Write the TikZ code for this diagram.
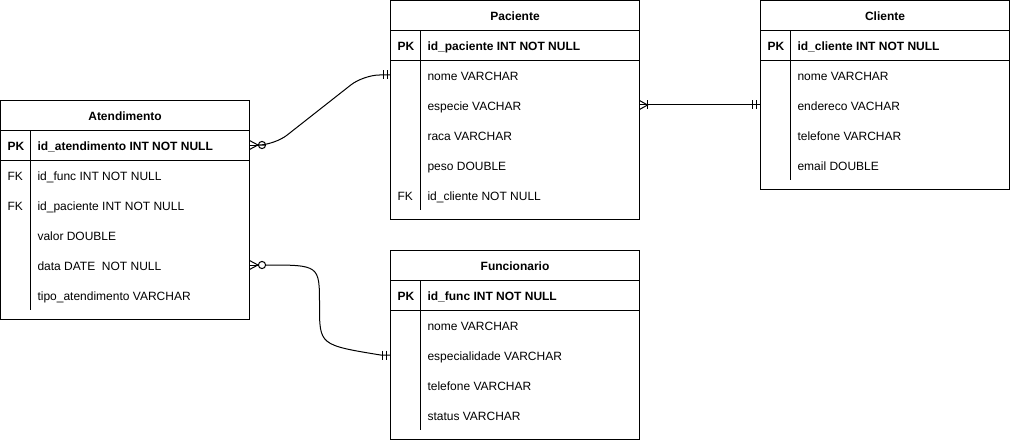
\documentclass[tikz,border=0pt]{standalone}
\usepackage{fontspec}
\setmainfont{Liberation Sans}
\usetikzlibrary{calc}
\begin{document}
\begin{tikzpicture}[x=1pt,y=-1pt,line width=1pt,
  tbl/.style={draw,fill=white,anchor=north west,inner sep=0pt,outer sep=0pt,minimum width=249pt},
  hdr/.style={inner sep=0pt,text height=8.6pt,text depth=0pt,font=\fontsize{12}{14}\selectfont\bfseries},
  keyb/.style={anchor=west,inner sep=0pt,text height=8.6pt,text depth=0pt,font=\fontsize{12}{14}\selectfont\bfseries},
  keyr/.style={anchor=west,inner sep=0pt,text height=8.6pt,text depth=0pt,font=\fontsize{12}{14}\selectfont},
  fldb/.style={anchor=west,inner sep=0pt,text height=8.6pt,text depth=0pt,font=\fontsize{12}{14}\selectfont\bfseries},
  fldr/.style={anchor=west,inner sep=0pt,text height=8.6pt,text depth=0pt,font=\fontsize{12}{14}\selectfont},
  conn/.style={draw,line width=1pt}]
\useasboundingbox (0,0) rectangle (1011,441);

% ---------------- Atendimento ----------------
\node[tbl,minimum height=219pt] (ate) at (0.5,100.5) {};
\node[hdr] (ate-h) at (125,116) {Atendimento};
\draw (0.5,130.5) -- (249.5,130.5);
\draw (0.5,160.5) -- (249.5,160.5);
\draw (30.5,130.5) -- (30.5,310);
\node[keyb] (ate-pkk) at (7,146) {PK};
\node[fldb] (ate-pk) at (37,146) {id\_atendimento INT NOT NULL};
\node[keyr] (ate-fk1) at (7,176) {FK};
\node[fldr] (ate-f1) at (37,176) {id\_func INT NOT NULL};
\node[keyr] (ate-fk2) at (7,206) {FK};
\node[fldr] (ate-f2) at (37,206) {id\_paciente INT NOT NULL};
\node[fldr] (ate-f3) at (37,236) {valor DOUBLE};
\node[fldr] (ate-f4) at (37,266) {data DATE\ \ NOT NULL};
\node[fldr] (ate-f5) at (37,296) {tipo\_atendimento VARCHAR};

% ---------------- Paciente ----------------
\node[tbl,minimum height=219pt] (pac) at (390.5,0.5) {};
\node[hdr] (pac-h) at (515,16) {Paciente};
\draw (390.5,30.5) -- (639.5,30.5);
\draw (390.5,60.5) -- (639.5,60.5);
\draw (420.5,30.5) -- (420.5,210);
\node[keyb] (pac-pkk) at (397,46) {PK};
\node[fldb] (pac-pk) at (427,46) {id\_paciente INT NOT NULL};
\node[fldr] (pac-f1) at (427,76) {nome VARCHAR};
\node[fldr] (pac-f2) at (427,106) {especie VACHAR};
\node[fldr] (pac-f3) at (427,136) {raca VARCHAR};
\node[fldr] (pac-f4) at (427,166) {peso DOUBLE};
\node[keyr] (pac-fk) at (397,196) {FK};
\node[fldr] (pac-f5) at (427,196) {id\_cliente NOT NULL};

% ---------------- Cliente ----------------
\node[tbl,minimum height=189pt] (cli) at (760.5,0.5) {};
\node[hdr] (cli-h) at (885,16) {Cliente};
\draw (760.5,30.5) -- (1009.5,30.5);
\draw (760.5,60.5) -- (1009.5,60.5);
\draw (790.5,30.5) -- (790.5,180);
\node[keyb] (cli-pkk) at (767,46) {PK};
\node[fldb] (cli-pk) at (797,46) {id\_cliente INT NOT NULL};
\node[fldr] (cli-f1) at (797,76) {nome VARCHAR};
\node[fldr] (cli-f2) at (797,106) {endereco VACHAR};
\node[fldr] (cli-f3) at (797,136) {telefone VARCHAR};
\node[fldr] (cli-f4) at (797,166) {email DOUBLE};

% ---------------- Funcionario ----------------
\node[tbl,minimum height=189pt] (fun) at (390.5,250.5) {};
\node[hdr] (fun-h) at (515,266) {Funcionario};
\draw (390.5,280.5) -- (639.5,280.5);
\draw (390.5,310.5) -- (639.5,310.5);
\draw (420.5,280.5) -- (420.5,430);
\node[keyb] (fun-pkk) at (397,296) {PK};
\node[fldb] (fun-pk) at (427,296) {id\_func INT NOT NULL};
\node[fldr] (fun-f1) at (427,326) {nome VARCHAR};
\node[fldr] (fun-f2) at (427,356) {especialidade VARCHAR};
\node[fldr] (fun-f3) at (427,386) {telefone VARCHAR};
\node[fldr] (fun-f4) at (427,416) {status VARCHAR};

% ---------------- Connectors ----------------
\coordinate (a1) at ($(ate.east |- ate-pk)+(0,-1)$);
\coordinate (p1) at ($(pac.west |- pac-f1)+(0,-1)$);
\coordinate (a2) at ($(ate.east |- ate-f4)+(0,-1)$);
\coordinate (f2) at ($(fun.west |- fun-f2)+(0,-1)$);
\coordinate (p2) at ($(pac.east |- pac-f2)+(0,-1)$);
\coordinate (c2) at ($(cli.west |- cli-f2)+(0,-1)$);

% Atendimento -- Paciente (zero-or-many to one-and-only-one)
\draw[conn,rounded corners=16pt] ($(a1)+(16,0)$) -- ($(a1)+(25,0)$) -- ($(p1)+(-27,0)$) -- (p1);
\draw[conn] (a1) -- ++(8.5,0);
\draw[conn] ($(a1)+(0,-4.5)$) -- ($(a1)+(8.5,0)$) -- ($(a1)+(0,4.5)$);
\draw[conn] ($(a1)+(12.5,0)$) circle (3.6pt);
\draw[conn] ($(p1)+(-7.5,-4.5)$) -- ($(p1)+(-7.5,4.5)$);
\draw[conn] ($(p1)+(-3.5,-4.5)$) -- ($(p1)+(-3.5,4.5)$);

% Atendimento -- Funcionario (zero-or-many to one-and-only-one)
\draw[conn] ($(a2)+(16,0)$) .. controls ($(a2)+(70,0)$) .. ($(a2)+(70,40)$) .. controls ($(a2)+(70,80)$) .. ($(f2)+(-10,0)$) -- (f2);
\draw[conn] (a2) -- ++(8.5,0);
\draw[conn] ($(a2)+(0,-4.5)$) -- ($(a2)+(8.5,0)$) -- ($(a2)+(0,4.5)$);
\draw[conn] ($(a2)+(12.5,0)$) circle (3.6pt);
\draw[conn] ($(f2)+(-8,-4.5)$) -- ($(f2)+(-8,4.5)$);
\draw[conn] ($(f2)+(-4,-4.5)$) -- ($(f2)+(-4,4.5)$);

% Paciente -- Cliente (one-or-many to one-and-only-one)
\draw[conn] (p2) -- (c2);
\draw[conn] ($(p2)+(0,-4.5)$) -- ($(p2)+(8,0)$) -- ($(p2)+(0,4.5)$);
\draw[conn] ($(p2)+(8,-4.5)$) -- ($(p2)+(8,4.5)$);
\draw[conn] ($(c2)+(-8,-4.5)$) -- ($(c2)+(-8,4.5)$);
\draw[conn] ($(c2)+(-4,-4.5)$) -- ($(c2)+(-4,4.5)$);
\end{tikzpicture}
\end{document}
